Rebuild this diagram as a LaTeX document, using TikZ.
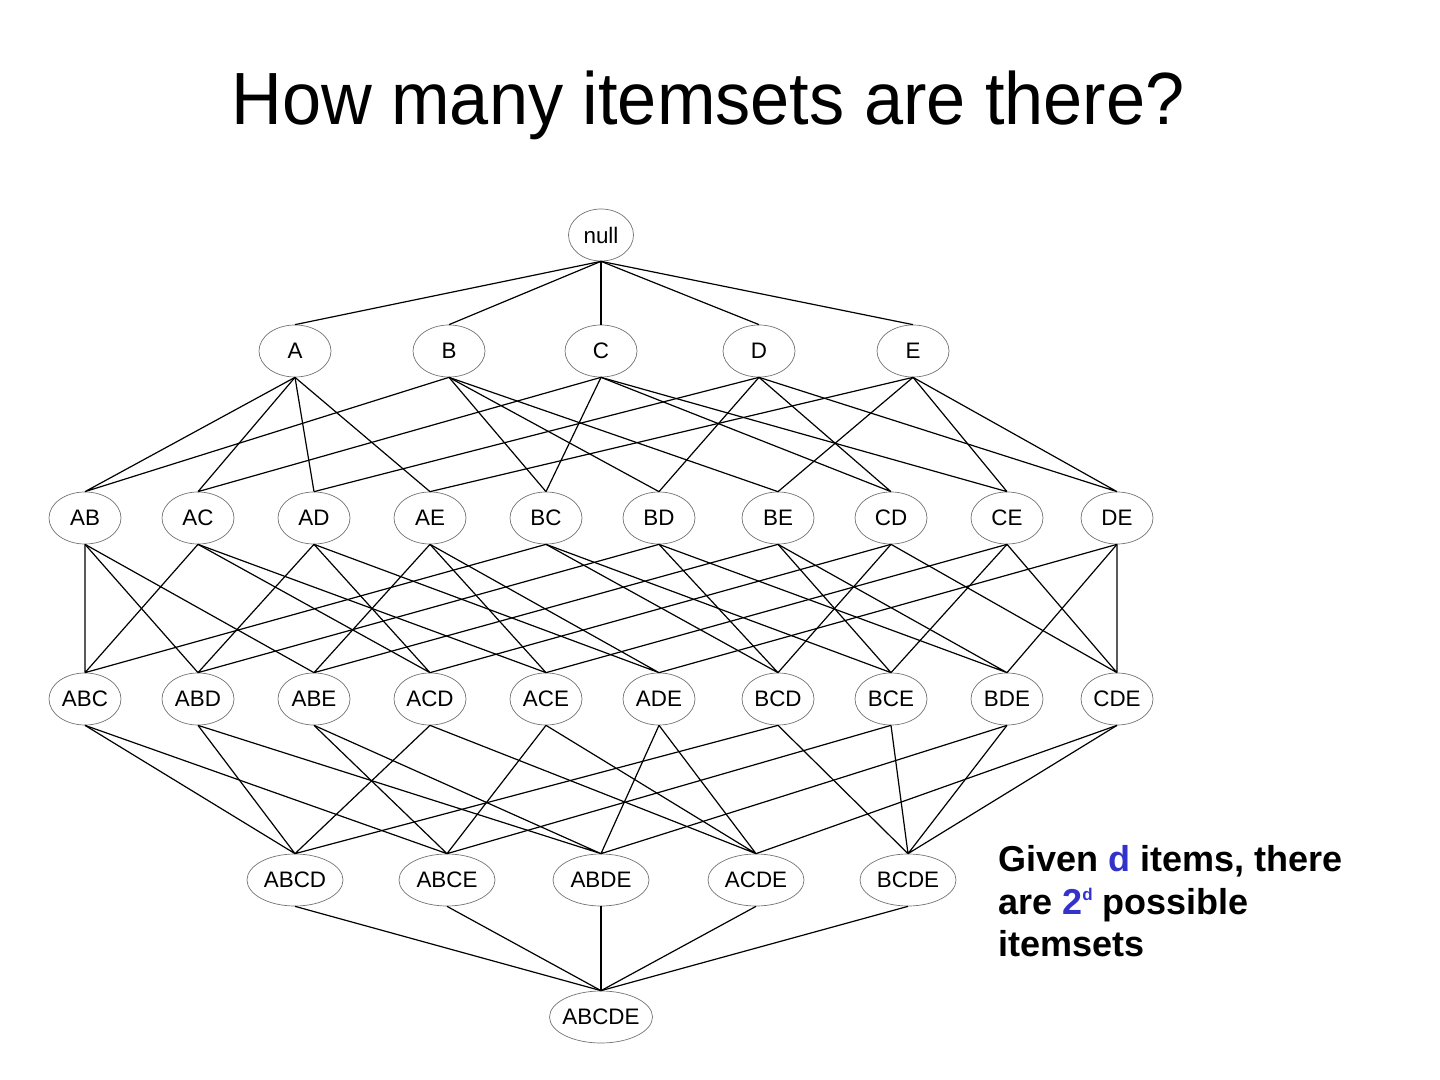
\documentclass[tikz,border=0pt]{standalone}
\usepackage{fontspec}
\setmainfont{Liberation Sans}
\newfontfamily\titlefont[FakeStretch=0.95]{Liberation Sans}
\usetikzlibrary{shapes.geometric}
\definecolor{itemblue}{RGB}{51,51,204}

\begin{document}
\begin{tikzpicture}[
  x=0.5pt, y=-0.5pt,
  every node/.style={inner sep=0pt},
  setnode/.style={
    ellipse, draw=black!55, line width=0.35pt,
    minimum width=36pt, minimum height=26pt,
    font=\fontsize{11.2}{13}\selectfont,
  },
  wideset/.style={setnode, minimum width=48pt},
  fullset/.style={setnode, minimum width=51.5pt, inner xsep=-2.5pt},
  nullset/.style={setnode, minimum width=32.5pt},
  edge/.style={draw=black, line width=0.6pt},
]
\useasboundingbox (0,0) rectangle (1440,1080);

% title
\node[anchor=base, font=\titlefont\fontsize{37}{42}\selectfont] (title) at (708,125)
  {How many itemsets are there?};

%---------- lattice, top-down ----------
\node[nullset] (null) at (601,235) {null};

% 1-itemsets
\node[setnode] (A) at (295,351) {A};
\node[setnode] (B) at (449,351) {B};
\node[setnode] (C) at (601,351) {C};
\node[setnode] (D) at (759,351) {D};
\node[setnode] (E) at (913,351) {E};

% 2-itemsets
\node[setnode] (AB) at (85,518) {AB};
\node[setnode] (AC) at (198,518) {AC};
\node[setnode] (AD) at (314,518) {AD};
\node[setnode] (AE) at (430,518) {AE};
\node[setnode] (BC) at (546,518) {BC};
\node[setnode] (BD) at (659,518) {BD};
\node[setnode] (BE) at (778,518) {BE};
\node[setnode] (CD) at (891,518) {CD};
\node[setnode] (CE) at (1007,518) {CE};
\node[setnode] (DE) at (1117,518) {DE};

% 3-itemsets
\node[setnode] (ABC) at (85,699) {ABC};
\node[setnode] (ABD) at (198,699) {ABD};
\node[setnode] (ABE) at (314,699) {ABE};
\node[setnode] (ACD) at (430,699) {ACD};
\node[setnode] (ACE) at (546,699) {ACE};
\node[setnode] (ADE) at (659,699) {ADE};
\node[setnode] (BCD) at (778,699) {BCD};
\node[setnode] (BCE) at (891,699) {BCE};
\node[setnode] (BDE) at (1007,699) {BDE};
\node[setnode] (CDE) at (1117,699) {CDE};

% 4-itemsets
\node[wideset] (ABCD) at (295,880) {ABCD};
\node[wideset] (ABCE) at (447,880) {ABCE};
\node[wideset] (ABDE) at (601,880) {ABDE};
\node[wideset] (ACDE) at (756,880) {ACDE};
\node[wideset] (BCDE) at (908,880) {BCDE};

\node[fullset] (ABCDE) at (601,1017) {ABCDE};

%---------- edges ----------
\foreach \c in {A,B,C,D,E}{
  \draw[edge] (null.south) -- (\c.north);
}
\foreach \c/\p/\q in {AB/A/B, AC/A/C, AD/A/D, AE/A/E, BC/B/C,
                      BD/B/D, BE/B/E, CD/C/D, CE/C/E, DE/D/E}{
  \draw[edge] (\p.south) -- (\c.north) (\q.south) -- (\c.north);
}
\foreach \c/\p/\q/\r in {ABC/AB/AC/BC, ABD/AB/AD/BD, ABE/AB/AE/BE,
                         ACD/AC/AD/CD, ACE/AC/AE/CE, ADE/AD/AE/DE,
                         BCD/BC/BD/CD, BCE/BC/BE/CE, BDE/BD/BE/DE,
                         CDE/CD/CE/DE}{
  \draw[edge] (\p.south) -- (\c.north) (\q.south) -- (\c.north)
              (\r.south) -- (\c.north);
}
\foreach \c/\p/\q/\r/\s in {ABCD/ABC/ABD/ACD/BCD, ABCE/ABC/ABE/ACE/BCE,
                            ABDE/ABD/ABE/ADE/BDE, ACDE/ACD/ACE/ADE/CDE,
                            BCDE/BCD/BCE/BDE/CDE}{
  \draw[edge] (\p.south) -- (\c.north) (\q.south) -- (\c.north)
              (\r.south) -- (\c.north) (\s.south) -- (\c.north);
}
\foreach \p in {ABCD,ABCE,ABDE,ACDE,BCDE}{
  \draw[edge] (\p.south) -- (ABCDE.north);
}

%---------- side note ----------
\node[anchor=north west, align=left,
      font=\bfseries\fontsize{18}{21.3}\selectfont] (note) at (998,845)
  {Given \textcolor{itemblue}{d} items, there\\
   are \textcolor{itemblue}{2\raisebox{0.37em}{\fontsize{8.5}{9}\selectfont d}} possible\\
   itemsets};

\end{tikzpicture}
\end{document}
